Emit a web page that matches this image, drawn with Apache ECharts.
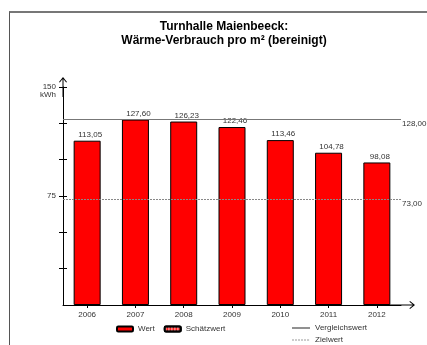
<!DOCTYPE html>
<html>
<head>
<meta charset="utf-8">
<script src="https://cdn.jsdelivr.net/npm/echarts@6/dist/echarts.min.js"></script>
<style>
  html, body { margin: 0; padding: 0; background: #fff; overflow: hidden; }
  #frame { position: absolute; left: 9px; top: 11px; width: 417px; height: 334px;
           border-left: 1px solid #555; border-top: 2px solid #777; }
  #chart { position: absolute; left: 0; top: 0; width: 427px; height: 345px; }
</style>
</head>
<body>
<div id="frame"></div>
<div id="chart"></div>
<script>
// ---- data ----
const titleLines = ['Turnhalle Maienbeeck:', 'Wärme-Verbrauch pro m² (bereinigt)'];
const years = ['2006', '2007', '2008', '2009', '2010', '2011', '2012'];
const werte = [113.05, 127.60, 126.23, 122.46, 113.46, 104.78, 98.08];
const schaetzwerte = [];
const vergleichswert = 128.00;
const zielwert = 73.00;
const yTickValues = [25, 50, 75, 100, 125, 150];
const yLabelValues = [75, 150];
const yUnit = 'kWh';
const seriesNames = ['Wert', 'Schätzwert', 'Vergleichswert', 'Zielwert'];

const fmt = v => v.toFixed(2).replace('.', ',');
const txt = '#333';
const font = 'Liberation Sans, Arial, sans-serif';

const arrowY = 'path://M3.5,0.6 L4.5,0.6 L4.5,20 L3.5,20 Z M4,0 L8,5 L7.2,5.6 L4,1.6 L0.8,5.6 L0,5 Z';
const arrowX = 'path://M3.5,0.6 L4.5,0.6 L4.5,28 L3.5,28 Z M4,0 L8,5 L7.2,5.6 L4,1.6 L0.8,5.6 L0,5 Z';
const iconSolid = 'path://M0,0 L18,0 L18,1.3 L0,1.3 Z';
const iconDotted = 'path://M0,0 H2 V1 H0 Z M3,0 H5 V1 H3 Z M6,0 H8 V1 H6 Z M9,0 H11 V1 H9 Z M12,0 H14 V1 H12 Z M15,0 H17 V1 H15 Z M17.9,0 H18 V1 H17.9 Z';

const chart = echarts.init(document.getElementById('chart'), null, { renderer: 'canvas' });
chart.setOption({
  animation: false,
  backgroundColor: 'transparent',
  textStyle: { fontFamily: font },
  title: {
    text: titleLines.join('\n'),
    left: 224,
    textAlign: 'center',
    top: 20,
    padding: 0,
    textStyle: { fontFamily: font, fontSize: 12, fontWeight: 'bold', color: '#000', lineHeight: 13.5 }
  },
  legend: [
    {
      data: [seriesNames[0], seriesNames[1]],
      left: 116, top: 325, padding: 0,
      itemWidth: 16, itemHeight: 5, itemGap: 9,
      textStyle: { fontSize: 8, color: txt, fontFamily: font },
      selectedMode: false
    },
    {
      data: [{ name: seriesNames[2], icon: iconSolid }, { name: seriesNames[3], icon: iconDotted }],
      orient: 'vertical',
      left: 292, top: 324, padding: 0,
      itemWidth: 18, itemHeight: 6, itemGap: 4,
      textStyle: { fontSize: 8, color: txt, fontFamily: font },
      selectedMode: false
    }
  ],
  grid: { left: 63, right: 26, top: 87, bottom: 40, containLabel: false, outerBoundsMode: 'none' },
  xAxis: {
    type: 'category',
    data: years,
    axisLine: { lineStyle: { color: '#000', width: 1 }, symbol: ['none', arrowX], symbolSize: [8, 28] },
    axisTick: { show: true, alignWithLabel: true, length: 3, lineStyle: { color: '#000' } },
    axisLabel: { fontSize: 8, color: txt, margin: 6, fontFamily: font },
    splitLine: { show: false }
  },
  yAxis: [
    {
      type: 'value', min: 0, max: 150, interval: 25, position: 'left',
      axisLine: { show: true, lineStyle: { color: '#000', width: 1 }, symbol: ['none', arrowY], symbolSize: [8, 20] },
      axisTick: { show: true, length: 4, customValues: yTickValues, lineStyle: { color: '#000' } },
      axisLabel: {
        fontSize: 8, color: txt, margin: 7, customValues: yLabelValues, fontFamily: font, lineHeight: 8,
        formatter: v => v === 150 ? '{e| }\n' + v + '\n{u|' + yUnit + '}' : String(v),
        rich: {
          e: { fontSize: 8, lineHeight: 8 },
          u: { fontSize: 8, lineHeight: 8, color: txt, fontFamily: font }
        }
      },
      splitLine: { show: false }
    },
    {
      type: 'value', min: 0, max: 150, interval: 25, position: 'left',
      axisLine: { show: false },
      axisTick: { show: true, inside: true, length: 4, customValues: yTickValues, lineStyle: { color: '#000' } },
      axisLabel: { show: false },
      splitLine: { show: false }
    }
  ],
  series: [
    {
      name: seriesNames[2], type: 'line', data: [], symbol: 'none', z: 1,
      lineStyle: { color: '#555', width: 1.2 }, itemStyle: { color: '#555' },
      markLine: {
        silent: true, symbol: ['none', 'none'],
        lineStyle: { color: '#777', width: 1.2, type: 'solid' },
        label: { show: true, position: 'end', distance: 1, formatter: () => '{e| }\n' + fmt(vergleichswert),
                 fontSize: 8, color: txt, lineHeight: 9, fontFamily: font,
                 rich: { e: { fontSize: 8, lineHeight: 9 } } },
        data: [{ yAxis: vergleichswert }]
      }
    },
    {
      name: seriesNames[3], type: 'line', data: [], symbol: 'none', z: 1,
      lineStyle: { color: '#999', width: 1, type: [2, 1] }, itemStyle: { color: '#999' },
      markLine: {
        silent: true, symbol: ['none', 'none'],
        lineStyle: { color: '#888', width: 1, type: [2, 1] },
        label: { show: true, position: 'end', distance: 1, formatter: () => '{e| }\n' + fmt(zielwert),
                 fontSize: 8, color: txt, lineHeight: 9, fontFamily: font,
                 rich: { e: { fontSize: 8, lineHeight: 9 } } },
        data: [{ yAxis: zielwert }]
      }
    },
    {
      name: seriesNames[0], type: 'bar', data: werte, stack: 'v', barWidth: 27, z: 3,
      itemStyle: { color: '#ff0000', borderColor: '#000', borderWidth: 1 },
      label: { show: true, position: 'top', distance: 2, offset: [3, 0], fontSize: 8, color: txt,
               fontFamily: font, formatter: p => fmt(p.value) }
    },
    {
      name: seriesNames[1], type: 'bar', data: schaetzwerte, stack: 'v', barWidth: 27, z: 3,
      itemStyle: {
        color: '#ff0000', borderColor: '#000', borderWidth: 1,
        decal: { symbol: 'rect', color: '#fff', dashArrayX: [2, 1], dashArrayY: [1, 1], symbolSize: 1, rotation: 0 }
      }
    }
  ]
});
</script>
</body>
</html>
